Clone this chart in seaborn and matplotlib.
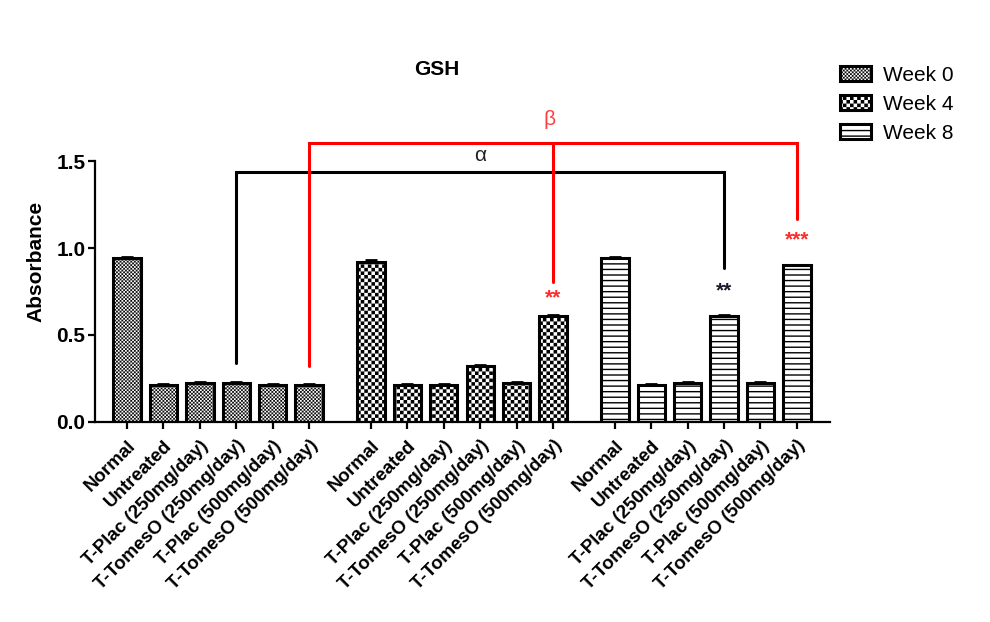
import numpy as np
import pandas as pd
import matplotlib
matplotlib.use("Agg")
import matplotlib.pyplot as plt
import matplotlib.hatch as mhatch
from matplotlib.path import Path
from matplotlib.patches import Patch
import seaborn as sns

# ---------------- data ----------------
weeks = ["Week 0", "Week 4", "Week 8"]
groups = ["Normal", "Untreated", "T-Plac (250mg/day)", "T-TomesO (250mg/day)",
          "T-Plac (500mg/day)", "T-TomesO (500mg/day)"]
week0 = [0.94, 0.21, 0.22, 0.22, 0.21, 0.21]
week4 = [0.92, 0.21, 0.21, 0.32, 0.22, 0.61]
week8 = [0.94, 0.21, 0.22, 0.61, 0.22, 0.90]
sem0 = [0.010, 0.005, 0.005, 0.005, 0.005, 0.005]
sem4 = [0.010, 0.005, 0.005, 0.005, 0.005, 0.005]
sem8 = [0.010, 0.005, 0.005, 0.005, 0.005, 0.005]
yticks = [0.0, 0.5, 1.0, 1.5]
# significance brackets: (week, group) anchors and heights
alpha_bracket = dict(start=(0, 3), end=(2, 3), y_start=0.34, y_top=1.44, y_end=0.885)
beta_bracket = dict(start=(0, 5), mid=(1, 5), end=(2, 5), y_start=0.32, y_top=1.605,
                    y_mid=0.805, y_end=1.17)
stars = [((1, 5), "**", 0.683, "#ff2a2a"), ((2, 3), "**", 0.723, "#1a1a2e"),
         ((2, 5), "***", 1.013, "#ff2a2a")]

GROUP_STEP = 6.7

# ---------------- custom checker hatch ----------------
HATCH_LW = 1.0
matplotlib.rcParams["hatch.linewidth"] = HATCH_LW
matplotlib.rcParams["hatch.color"] = "black"


class CheckerHatch(mhatch.HatchPatternBase):
    filled = True

    def __init__(self, hatch, density):
        k = hatch.count('*')
        self.n = 28 * k
        self.num_vertices = (self.n * self.n // 2) * 5 if k else 0
        self.shrink = HATCH_LW / 72.0 / 2.0

    def set_vertices_and_codes(self, vertices, codes):
        n = self.n
        c = 1.0 / n
        sh = min(self.shrink, c * 0.4)
        ii, jj = np.meshgrid(np.arange(n), np.arange(n), indexing="ij")
        mask = (ii + jj) % 2 == 0
        x0 = ii[mask] * c + sh
        y0 = jj[mask] * c + sh
        x1 = x0 + c - 2 * sh
        y1 = y0 + c - 2 * sh
        v = np.stack([np.stack([x0, y0], 1), np.stack([x1, y0], 1),
                      np.stack([x1, y1], 1), np.stack([x0, y1], 1),
                      np.stack([x0, y0], 1)], 1).reshape(-1, 2)
        vertices[:] = v
        codes[:] = np.tile([Path.MOVETO, Path.LINETO, Path.LINETO,
                            Path.LINETO, Path.CLOSEPOLY], len(x0))


for i, t in enumerate(mhatch._hatch_types):
    if t.__name__ == "Stars":
        mhatch._hatch_types[i] = CheckerHatch

hatches = {"Week 0": "**", "Week 4": "*", "Week 8": "---"}

# ---------------- frame ----------------
rows = []
for w, (vals, sems) in enumerate(zip([week0, week4, week8], [sem0, sem4, sem8])):
    for g, (v, s) in enumerate(zip(vals, sems)):
        rows.append(dict(week=weeks[w], group=groups[g], pos=w * GROUP_STEP + g,
                         value=v, sem=s))
df = pd.DataFrame(rows)

sns.set_theme(style="white")
plt.rcParams["font.family"] = ["Liberation Sans", "DejaVu Sans"]
plt.rcParams["text.color"] = "black"
plt.rcParams["axes.labelcolor"] = "black"
plt.rcParams["xtick.color"] = "black"
plt.rcParams["ytick.color"] = "black"

fig = plt.figure(figsize=(9.9, 6.22), dpi=100)
ax = fig.add_axes([0.096, 0.3223, 0.7424, 0.516])

sns.barplot(data=df, x="pos", y="value", hue="week", native_scale=True,
            dodge=False, width=0.75, palette={w: "white" for w in weeks},
            edgecolor="black", linewidth=2.2, legend=False, errorbar=None, ax=ax)

for cont, w in zip(ax.containers, weeks):
    for p in cont:
        p.set_hatch(hatches[w])

ax.errorbar(df["pos"], df["value"], yerr=[np.zeros(len(df)), df["sem"]],
            fmt="none", ecolor="black", elinewidth=2, capsize=4.5, capthick=2,
            zorder=5)

ax.set_xlim(-0.88, 19.31)
ax.set_ylim(0, 1.85)
ax.set_yticks(yticks)
ax.set_yticklabels([f"{t:.1f}" for t in yticks], fontsize=15, fontweight="bold",
                   color="black")
ax.set_xticks(df["pos"])
ax.set_xticklabels(df["group"], rotation=45, ha="right", rotation_mode="anchor",
                   fontsize=13.5, fontweight="bold", color="black")
ax.set_xlabel("")
ax.set_ylabel("Absorbance", fontsize=15, fontweight="bold", labelpad=8, color="black")
ax.set_title("GSH", fontsize=15, fontweight="bold", pad=0, y=1.08, x=0.465,
             color="black")

for s in ["top", "right"]:
    ax.spines[s].set_visible(False)
for s in ["left", "bottom"]:
    ax.spines[s].set_color("black")
    ax.spines[s].set_linewidth(1.6)
ax.spines["left"].set_bounds(0, 1.5)
ax.tick_params(axis="both", direction="out", length=5, width=1.6, color="black",
               left=True, bottom=True)
ax.tick_params(axis="x", pad=6)
ax.tick_params(axis="y", pad=2)


def xpos(wg):
    return wg[0] * GROUP_STEP + wg[1]


# alpha bracket (black)
a = alpha_bracket
ax.plot([xpos(a["start"]), xpos(a["start"]), xpos(a["end"]), xpos(a["end"])],
        [a["y_start"], a["y_top"], a["y_top"], a["y_end"]], color="black", lw=2.2,
        solid_joinstyle="miter", zorder=6)
ax.text((xpos(a["start"]) + xpos(a["end"])) / 2, a["y_top"] + 0.04, "α",
        ha="center", va="bottom", fontsize=15, color="#222222")

# beta bracket (red)
b = beta_bracket
ax.plot([xpos(b["start"]), xpos(b["start"]), xpos(b["end"]), xpos(b["end"])],
        [b["y_start"], b["y_top"], b["y_top"], b["y_end"]], color="#ff0000", lw=2.2,
        solid_joinstyle="miter", zorder=7)
ax.plot([xpos(b["mid"]), xpos(b["mid"])], [b["y_top"], b["y_mid"]], color="#ff0000",
        lw=2.2, zorder=7)
ax.text(xpos(b["mid"]) - 0.1, b["y_top"] + 0.08, "β", ha="center", va="bottom",
        fontsize=15, color="#ff4040")

for wg, txt, y, col in stars:
    ax.text(xpos(wg), y, txt, ha="center", va="baseline", fontsize=15,
            color=col, fontweight="bold")

handles = [Patch(facecolor="white", edgecolor="black", linewidth=2.2,
                 hatch=hatches[w]) for w in weeks]
fig.legend(handles, weeks, loc="upper left", bbox_to_anchor=(0.848, 0.894),
           frameon=False, fontsize=15, handlelength=1.5, handleheight=0.72,
           handletextpad=0.6, labelspacing=0.47, borderpad=0, borderaxespad=0)

fig.savefig("out.png", dpi=100, facecolor="white")
